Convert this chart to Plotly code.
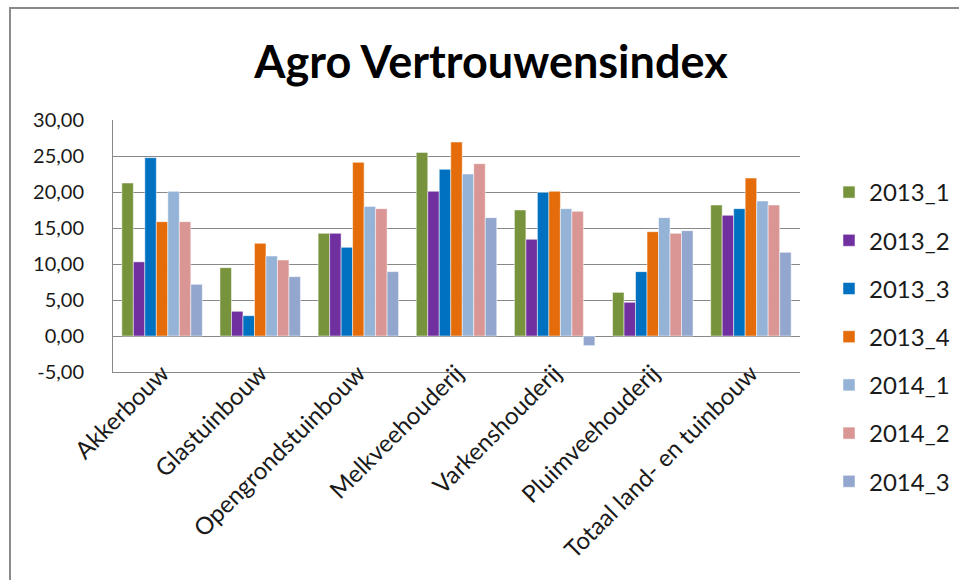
import plotly.graph_objects as go

# --- data ---
categories = ["Akkerbouw", "Glastuinbouw", "Opengrondstuinbouw", "Melkveehouderij",
              "Varkenshouderij", "Pluimveehouderij", "Totaal land- en tuinbouw"]

series_names = ["2013_1", "2013_2", "2013_3", "2013_4", "2014_1", "2014_2", "2014_3"]

v2013_1 = [21.25, 9.49, 14.26, 25.50, 17.50, 6.06, 18.19]
v2013_2 = [10.30, 3.43, 14.26, 20.10, 13.43, 4.68, 16.76]
v2013_3 = [24.77, 2.82, 12.31, 23.15, 19.95, 8.94, 17.69]
v2013_4 = [15.88, 12.87, 24.12, 26.94, 20.10, 14.49, 21.94]
v2014_1 = [20.09, 11.11, 18.00, 22.50, 17.69, 16.44, 18.75]
v2014_2 = [15.88, 10.56, 17.69, 23.94, 17.31, 14.26, 18.19]
v2014_3 = [7.18, 8.24, 8.94, 16.44, -1.34, 14.63, 11.62]

colors = ["#77933C", "#7030A0", "#0070C0", "#E46C0A", "#95B3D7", "#D99694", "#93A6CE"]

y_ticks = [-5, 0, 5, 10, 15, 20, 25, 30]
# Excel-stijl labels: komma als decimaal, gewoon minteken
y_ticktext = [f"{v:.2f}".replace(".", ",") for v in y_ticks]

# --- layout constants ---
W, H = 959, 580
M_L, M_R, M_T, M_B = 113, 159, 120, 208
FONT = "Lato"
GRID = "#888888"

fig = go.Figure()
for naam, vals, kleur in zip(series_names,
                             [v2013_1, v2013_2, v2013_3, v2013_4, v2014_1, v2014_2, v2014_3],
                             colors):
    fig.add_trace(go.Bar(x=categories, y=vals, name=naam, legendgroup=naam,
                         marker=dict(color=kleur, line=dict(color="white", width=0.5))))

# outer chart border (pixel -> paper coordinates)
pw, ph = W - M_L - M_R, H - M_T - M_B
fig.add_shape(type="rect", xref="paper", yref="paper",
              x0=(10 - M_L) / pw, x1=(W + 20 - M_L) / pw,
              y0=-(M_B + 20) / ph, y1=(H - M_B - 8) / ph,
              line=dict(color="#8A8A8A", width=2), layer="below")

fig.update_layout(
    width=W, height=H,
    margin=dict(l=M_L, r=M_R, t=M_T, b=M_B, autoexpand=False),
    paper_bgcolor="white", plot_bgcolor="white",
    font=dict(family=FONT, size=20, color="#1a1a1a"),
    title=dict(text="<b>Agro Vertrouwensindex</b>", x=491 / W, xanchor="center",
               y=1 - 62 / H, yanchor="middle",
               font=dict(family=FONT, size=45, color="black")),
    barmode="group", bargap=0.18, bargroupgap=0,
    showlegend=True,
    legend=dict(x=(829 - M_L) / pw, xanchor="left", y=(H - M_B - 170) / ph, yanchor="top",
                font=dict(family=FONT, size=24, color="#1a1a1a"),
                tracegroupgap=14, maxheight=420, bgcolor="rgba(0,0,0,0)"),
)

fig.update_yaxes(range=[-5, 30], tickvals=y_ticks, ticktext=y_ticktext,
                 showgrid=True, gridcolor=GRID, gridwidth=1,
                 zeroline=True, zerolinecolor=GRID, zerolinewidth=1,
                 showline=True, linecolor=GRID, linewidth=1,
                 ticks="", ticklabelstandoff=24, automargin=False)
fig.update_xaxes(tickangle=-45, showline=True, linecolor=GRID, linewidth=1,
                 tickfont=dict(size=24), ticks="", showgrid=False,
                 ticklabelstandoff=-23, automargin=False)

# body-marge van de pagina weg, zodat de grafiek precies in het venster valt
fig.write_html("out.html", config={"displayModeBar": False},
               post_script="document.body.style.margin='0';")
